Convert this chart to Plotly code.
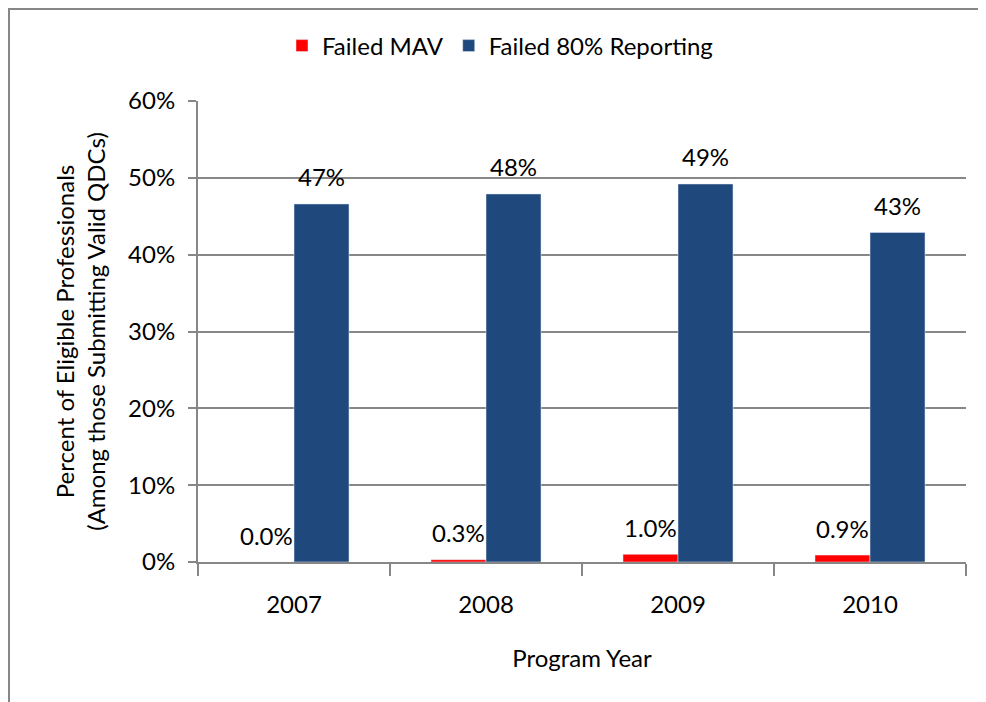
import plotly.graph_objects as go

years = ["2007", "2008", "2009", "2010"]
failed_mav = [0.0, 0.3, 1.0, 0.9]
failed_80 = [46.6, 47.9, 49.2, 42.9]
mav_labels = ["0.0%", "0.3%", "1.0%", "0.9%"]
rep_labels = ["47%", "48%", "49%", "43%"]
y_ticks = [0, 10, 20, 30, 40, 50, 60]
y_tick_text = ["0%", "10%", "20%", "30%", "40%", "50%", "60%"]

FONT = "Lato"
FS = 24
GRAY = "#878787"

W, H = 978, 694  # page body has an 8px margin

fig = go.Figure()
fig.add_trace(go.Bar(x=years, y=failed_mav, name="Failed MAV", marker_color="#FF0000"))
fig.add_trace(go.Bar(x=years, y=failed_80, name="Failed 80% Reporting", marker_color="#1F497D"))

ann = []
for i, yr in enumerate(years):
    ann.append(dict(x=i, y=failed_mav[i], xref="x", yref="y", text=mav_labels[i],
                    showarrow=False, xshift=-27.5, yshift=27, yanchor="middle",
                    font=dict(family=FONT, size=FS, color="black")))
    ann.append(dict(x=i, y=failed_80[i], xref="x", yref="y", text=rep_labels[i],
                    showarrow=False, xshift=27.5, yshift=27, yanchor="middle",
                    font=dict(family=FONT, size=FS, color="black")))

fig.update_layout(
    width=W, height=H,
    margin=dict(l=190, r=20, t=93, b=140, autoexpand=False),
    paper_bgcolor="white", plot_bgcolor="white",
    font=dict(family=FONT, size=FS, color="black"),
    barmode="group", bargap=0.427, bargroupgap=0,
    showlegend=True,
    legend=dict(orientation="h", xref="container", yref="container",
                x=492 / W, xanchor="center", y=1 - 38 / H, yanchor="middle",
                font=dict(family=FONT, size=FS), traceorder="normal"),
    annotations=ann,
    shapes=[dict(type="rect", xref="paper", yref="paper",
                 x0=(1 - 190) / 768, x1=1.3, y0=-0.4, y1=(554 - 1) / 461,
                 line=dict(color=GRAY, width=2), fillcolor="rgba(0,0,0,0)", layer="below")],
)
fig.update_xaxes(
    type="category", range=[-0.5, 3.5], automargin=False,
    showline=True, linecolor=GRAY, linewidth=2,
    ticks="outside", tickson="boundaries", ticklen=12, tickcolor=GRAY, tickwidth=2,
    showgrid=False, tickfont=dict(family=FONT, size=FS), ticklabelstandoff=20,
    title=dict(text="Program Year", font=dict(family=FONT, size=FS), standoff=33),
)
fig.update_yaxes(
    range=[0, 60], tickvals=y_ticks, ticktext=y_tick_text, automargin=False,
    showline=True, linecolor=GRAY, linewidth=2,
    ticks="outside", ticklen=8, tickcolor=GRAY, tickwidth=2,
    showgrid=True, gridcolor=GRAY, gridwidth=2, zeroline=False,
    tickfont=dict(family=FONT, size=FS), ticklabelstandoff=8,
    title=dict(text="Percent of Eligible Professionals<br>(Among those Submitting Valid QDCs)",
               font=dict(family=FONT, size=FS), standoff=16),
)

fig.write_html("out.html")
